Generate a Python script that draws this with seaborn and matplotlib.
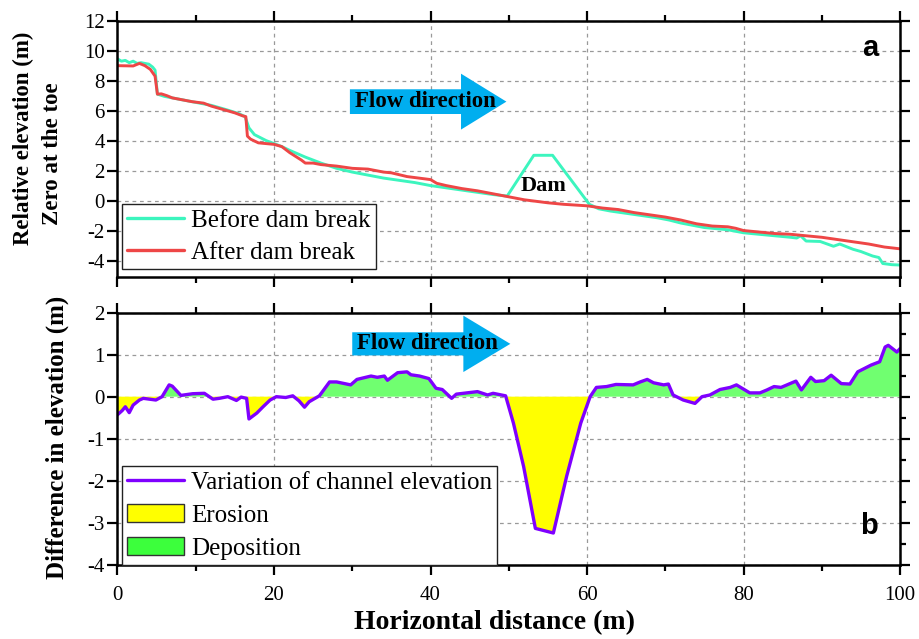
import numpy as np
import pandas as pd
import matplotlib
matplotlib.use("Agg")
import matplotlib.pyplot as plt
import seaborn as sns
from matplotlib.patches import Patch, FancyArrow
from matplotlib.lines import Line2D
from matplotlib.ticker import MultipleLocator

# ---------------- data ----------------
before_x = [0, 0.5, 1, 1.5, 2, 2.5, 3, 3.5, 4, 4.5, 4.8, 5.1, 6, 8, 10, 12, 14, 15.5, 16.3,
            16.8, 17.5, 19, 20, 21, 22, 24, 26, 28, 30, 32, 34, 36, 38, 40, 42, 44, 46, 48,
            49.8, 53.2, 55.6, 60.3, 61.5, 63, 65, 67, 69, 70.5, 72, 75, 78, 80, 83, 86, 86.8,
            87.3, 88, 89.8, 91.5, 92.3, 94, 95, 96.5, 97.3, 97.8, 99, 100]
before_y = [9.45, 9.3, 9.35, 9.2, 9.3, 9.15, 9.2, 9.15, 9.1, 8.9, 8.7, 7.1, 6.95, 6.75, 6.55,
            6.35, 6.05, 5.8, 5.6, 4.85, 4.4, 4.0, 3.8, 3.6, 3.35, 2.9, 2.5, 2.15, 1.9, 1.7, 1.5,
            1.35, 1.2, 1.0, 0.85, 0.7, 0.55, 0.4, 0.3, 3.02, 3.02, -0.25, -0.55, -0.7, -0.85,
            -1.0, -1.15, -1.3, -1.5, -1.8, -1.95, -2.15, -2.3, -2.45, -2.5, -2.35, -2.7, -2.73,
            -3.05, -2.9, -3.25, -3.4, -3.7, -3.8, -4.2, -4.28, -4.3]

after_x = [0, 2, 2.8, 3.5, 4.2, 4.8, 5.1, 5.6, 6.3, 7, 8, 9.5, 11, 12, 14, 15, 16, 16.4, 16.6,
           17, 18, 20, 21, 22, 23.5, 24, 25, 26, 28, 30, 32, 34, 35, 37, 40, 40.8, 42, 44, 46,
           48, 49.5, 52, 55, 57, 60, 62, 64, 66, 68, 70, 72, 74, 76, 78, 79, 80, 82, 84, 86,
           88, 90, 92, 94, 96, 98, 100]
after_y = [9.0, 8.98, 9.15, 9.0, 8.75, 8.3, 7.1, 7.12, 7.0, 6.85, 6.75, 6.6, 6.5, 6.3, 6.0,
           5.85, 5.65, 5.6, 4.3, 4.1, 3.85, 3.75, 3.6, 3.2, 2.7, 2.5, 2.5, 2.4, 2.3, 2.15, 2.1,
           1.9, 1.85, 1.6, 1.4, 1.15, 1.0, 0.8, 0.65, 0.45, 0.3, 0.05, -0.15, -0.25, -0.35,
           -0.5, -0.6, -0.8, -0.95, -1.1, -1.3, -1.55, -1.7, -1.75, -1.85, -2.0, -2.1, -2.2,
           -2.25, -2.35, -2.45, -2.6, -2.75, -2.9, -3.1, -3.22]

diff_x = [0, 0.6, 1.0, 1.5, 2.0, 2.8, 3.3, 4.9, 5.7, 6.6, 7.0, 8.1, 9.6, 11.1, 12.2, 13.0, 14.1,
          15.2, 15.8, 16.5, 16.8, 17.8, 18.6, 19.5, 20.3, 21.5, 22.4, 23.2, 23.9, 24.5, 25.8,
          27.1, 28.0, 29.8, 30.6, 32.4, 33.2, 34.1, 34.5, 35.8, 37.0, 37.5, 38.6, 39.8, 40.7,
          41.5, 42.7, 43.3, 46.0, 47.3, 48.0, 49.6, 50.6, 51.9, 53.4, 55.7, 57.4, 59.2, 60.4,
          61.2, 62.5, 63.7, 65.9, 66.8, 67.7, 68.5, 69.8, 70.4, 71.0, 72.3, 73.8, 74.7, 75.7,
          77.0, 78.3, 79.1, 80.8, 82.1, 83.0, 83.9, 84.8, 86.7, 87.4, 88.6, 89.2, 90.3, 91.2,
          92.5, 93.6, 94.6, 96.3, 97.4, 98.1, 98.5, 99.6, 100]
diff_y = [-0.43, -0.33, -0.24, -0.38, -0.2, -0.08, -0.04, -0.08, 0.0, 0.28, 0.25, 0.03, 0.07,
          0.08, -0.06, -0.04, 0.0, -0.09, -0.01, -0.04, -0.53, -0.39, -0.24, -0.08, 0.0, -0.02,
          0.02, -0.1, -0.25, -0.12, 0.02, 0.35, 0.35, 0.28, 0.41, 0.49, 0.46, 0.49, 0.39, 0.57,
          0.59, 0.52, 0.49, 0.43, 0.2, 0.17, -0.04, 0.06, 0.12, 0.04, 0.08, 0.02, -0.63, -1.66,
          -3.13, -3.24, -1.89, -0.63, 0.0, 0.22, 0.24, 0.29, 0.28, 0.35, 0.41, 0.33, 0.28, 0.3,
          0.04, -0.08, -0.16, 0.0, 0.04, 0.17, 0.22, 0.28, 0.09, 0.09, 0.16, 0.24, 0.22, 0.37,
          0.16, 0.46, 0.36, 0.38, 0.51, 0.31, 0.3, 0.59, 0.75, 0.83, 1.18, 1.22, 1.06, 1.14]

x_ticks = [0, 20, 40, 60, 80, 100]
top_yticks = [-4, -2, 0, 2, 4, 6, 8, 10, 12]
bot_yticks = [-4, -3, -2, -1, 0, 1, 2]

labels_top = ["Before dam break", "After dam break"]
labels_bot = ["Variation of channel elevation", "Erosion", "Deposition"]

# ---------------- style ----------------
sns.set_style("ticks")
plt.rcParams["font.family"] = ["Liberation Serif", "DejaVu Serif"]
plt.rcParams["axes.unicode_minus"] = False
for k in ["text.color", "axes.labelcolor", "xtick.color", "ytick.color", "axes.edgecolor"]:
    plt.rcParams[k] = "black"

C_BEFORE = "#3CF5BE"
C_AFTER = "#EE4646"
C_DIFF = "#7F00FF"
C_ERO = "#FFFF00"
C_DEP = "#70FF70"
C_DEP_LEG = "#3CFF3C"
C_ARROW = "#00AEEF"

W, H = 919, 639
fig = plt.figure(figsize=(W / 100, H / 100), dpi=100)
L, R = 117.5, 900
ax1 = fig.add_axes([L / W, 1 - 277 / H, (R - L) / W, (277 - 20.7) / H])
ax2 = fig.add_axes([L / W, 1 - 565 / H, (R - L) / W, (565 - 312.5) / H])

df_b = pd.DataFrame({"x": before_x, "y": before_y})
df_a = pd.DataFrame({"x": after_x, "y": after_y})
df_d = pd.DataFrame({"x": diff_x, "y": diff_y})

sns.lineplot(data=df_b, x="x", y="y", ax=ax1, color=C_BEFORE, lw=2.1, estimator=None,
             sort=False, zorder=3)
sns.lineplot(data=df_a, x="x", y="y", ax=ax1, color=C_AFTER, lw=2.1, estimator=None,
             sort=False, zorder=4)

dx = np.array(diff_x)
dy = np.array(diff_y)
ax2.fill_between(dx, dy, 0, where=dy >= 0, interpolate=True, color=C_DEP, lw=0, zorder=2)
ax2.fill_between(dx, dy, 0, where=dy <= 0, interpolate=True, color=C_ERO, lw=0, zorder=2)
sns.lineplot(data=df_d, x="x", y="y", ax=ax2, color=C_DIFF, lw=2.4, estimator=None,
             sort=False, zorder=4)

for ax, yt, ylim in [(ax1, top_yticks, (-5.1, 12)), (ax2, bot_yticks, (-4, 2))]:
    ax.set_xlim(0, 100)
    ax.set_ylim(*ylim)
    ax.set_xticks(x_ticks)
    ax.set_yticks(yt)
    ax.xaxis.set_minor_locator(MultipleLocator(10))
    ax.grid(True, which="major", ls=(0, (3, 3)), color="#999999", lw=0.9, zorder=0)
    ax.set_axisbelow(True)
    for s in ax.spines.values():
        s.set_linewidth(1.8)
        s.set_color("black")
        s.set_zorder(6)
    ax.tick_params(which="both", direction="out", top=True, right=True, labeltop=False,
                   labelright=False, width=1.6, color="black", labelsize=15,
                   labelcolor="black")
    ax.tick_params(which="major", length=7.2)
    ax.tick_params(which="minor", length=4)
    ax.tick_params(axis="y", which="both", pad=2)
    ax.tick_params(axis="x", which="both", pad=8)
    ax.tick_params(axis="y", which="minor", left=False, right=False)
    ax.set_xlabel("")
    ax.set_ylabel("")

ax1.tick_params(axis="x", labelbottom=False)
ax2.yaxis.set_minor_locator(MultipleLocator(0.5))
ax2.tick_params(axis="y", which="minor", left=False, right=True, length=4)

# arrows + text
ax1.add_patch(FancyArrow(29.7, 6.6, 20.0, 0, width=1.65, head_width=3.73, head_length=5.8,
                         length_includes_head=True, color=C_ARROW, lw=0, zorder=5))
ax1.text(30.4, 6.6, "Flow direction", fontsize=16.5, fontweight="bold", ha="left",
         va="center", zorder=6)
ax2.add_patch(FancyArrow(30.0, 1.255, 20.2, 0, width=0.55, head_width=1.34, head_length=6.0,
                         length_includes_head=True, color=C_ARROW, lw=0, zorder=5))
ax2.text(30.6, 1.255, "Flow direction", fontsize=16.5, fontweight="bold", ha="left",
         va="center", zorder=6)
ax1.text(54.5, 1.0, "Dam", fontsize=16, fontweight="bold", ha="center", va="center", zorder=6)

ax1.text(96.2, 10.2, "a", fontsize=21, fontweight="bold", ha="center", va="center",
         family=["Liberation Sans", "DejaVu Sans"])
ax2.text(96.0, -3.08, "b", fontsize=21, fontweight="bold", ha="center", va="center",
         family=["Liberation Sans", "DejaVu Sans"])

# legends
h_top = [Line2D([], [], color=C_BEFORE, lw=2.4), Line2D([], [], color=C_AFTER, lw=2.4)]
leg1 = ax1.legend(h_top, labels_top, loc="upper left", bbox_to_anchor=(0.0054, 0.284),
                  fontsize=18, frameon=True, fancybox=False, framealpha=1, edgecolor="#222222",
                  borderaxespad=0, borderpad=0.2, handlelength=2.3, handletextpad=0.28,
                  labelspacing=0.38)
leg1.get_frame().set_linewidth(1.0)
leg1.set_zorder(7)

h_bot = [Line2D([], [], color=C_DIFF, lw=2.4),
         Patch(facecolor=C_ERO, edgecolor="#333333", lw=1.0),
         Patch(facecolor=C_DEP_LEG, edgecolor="#333333", lw=1.0)]
leg2 = ax2.legend(h_bot, labels_bot, loc="upper left", bbox_to_anchor=(0.0054, 0.391),
                  fontsize=18, frameon=True, fancybox=False, framealpha=1, edgecolor="#222222",
                  borderaxespad=0, borderpad=0.2, handlelength=2.3, handleheight=0.75,
                  handletextpad=0.28, labelspacing=0.4)
leg2.get_frame().set_linewidth(1.0)
leg2.set_zorder(7)

# axis labels
fig.text(23 / W, 1 - 138 / H, "Relative elevation (m)", rotation=90, fontsize=16.5,
         fontweight="bold", ha="center", va="center")
fig.text(53 / W, 1 - 154 / H, "Zero at the toe", rotation=90, fontsize=16.5,
         fontweight="bold", ha="center", va="center")
fig.text(57 / W, 1 - 437 / H, "Difference in elevation (m)", rotation=90, fontsize=18,
         fontweight="bold", ha="center", va="center")
fig.text(495 / W, 1 - 623 / H, "Horizontal distance (m)", fontsize=20,
         fontweight="bold", ha="center", va="center")

fig.savefig("out.png", dpi=100)
